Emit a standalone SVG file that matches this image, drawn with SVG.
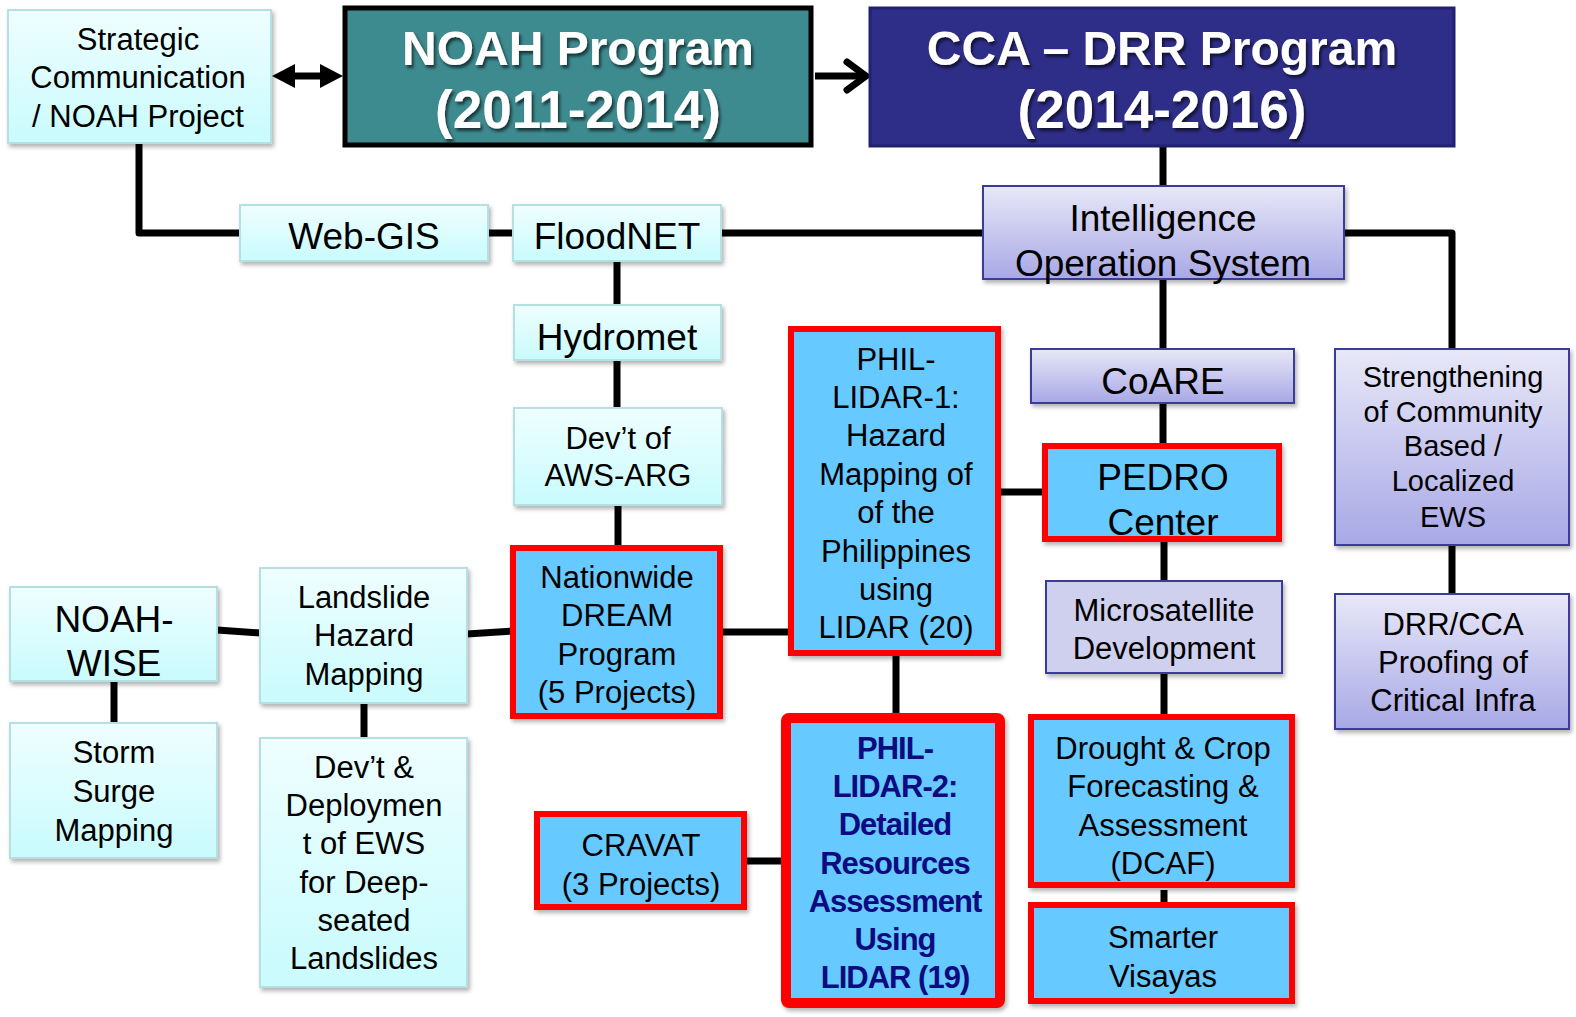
<svg xmlns="http://www.w3.org/2000/svg" width="1576" height="1017" viewBox="0 0 1576 1017">
<defs>
<linearGradient id="gCyan" x1="0" y1="0" x2="0" y2="1"><stop offset="0" stop-color="#effeff"/><stop offset="1" stop-color="#c9fbfd"/></linearGradient>
<linearGradient id="gLav" x1="0" y1="0" x2="0" y2="1"><stop offset="0" stop-color="#e8e8f8"/><stop offset="1" stop-color="#a8a8e6"/></linearGradient>
<filter id="sh" x="-10%" y="-10%" width="125%" height="125%"><feDropShadow dx="2" dy="3" stdDeviation="2" flood-color="#000" flood-opacity="0.3"/></filter>
<filter id="tsh" x="-10%" y="-20%" width="120%" height="150%"><feDropShadow dx="2" dy="3" stdDeviation="1.5" flood-color="#000" flood-opacity="0.6"/></filter>
</defs>
<style>
.cy{fill:url(#gCyan);stroke:#b6dfe2;stroke-width:2;filter:url(#sh)}
.lv{fill:url(#gLav);stroke:#3a3a9e;stroke-width:2;filter:url(#sh)}
.bl{fill:#66c9ff;stroke:#ff0000;stroke-width:6;filter:url(#sh)}
text{font-family:"Liberation Sans",Arial,sans-serif;fill:#000;text-anchor:middle}
.t31{font-size:31px}
.t37{font-size:37px}
.t29{font-size:29px}
.ttl{font-size:48px;font-weight:bold;fill:#fff;filter:url(#tsh)}
.ttl2{font-size:53px;font-weight:bold;fill:#fff;filter:url(#tsh)}
.b2{font-size:31px;font-weight:bold;fill:#0c0c80;letter-spacing:-1px}
.ln{fill:none;stroke:#000;stroke-width:7;stroke-linejoin:round}
</style>
<rect width="1576" height="1017" fill="#fff"/>

<g id="connectors">
<path class="ln" d="M139 143 V233 H240"/>
<path class="ln" d="M488 233 H513"/>
<path class="ln" d="M721 233 H983"/>
<path class="ln" d="M617 261 V305"/>
<path class="ln" d="M617 360 V408"/>
<path class="ln" d="M618 505 V548"/>
<path class="ln" d="M1163 147 V186"/>
<path class="ln" d="M1344 233 H1452 V349"/>
<path class="ln" d="M1163 279 V349"/>
<path class="ln" d="M1163 403 V445"/>
<path class="ln" d="M1164 541 V581"/>
<path class="ln" d="M1164 673 V718"/>
<path class="ln" d="M1164 890 V906"/>
<path class="ln" d="M1001 492 H1045"/>
<path class="ln" d="M723 632 H791"/>
<path class="ln" d="M896 655 V717"/>
<path class="ln" d="M747 861 H785"/>
<path class="ln" d="M467 634 L513 631"/>
<path class="ln" d="M217 630 L260 633"/>
<path class="ln" d="M114 681 V723"/>
<path class="ln" d="M364 703 V738"/>
<path class="ln" d="M1452 546 V594"/>
<path class="ln" d="M290 76 H325"/>
<polygon points="272,76 295,64 295,88" fill="#000"/>
<polygon points="343,76 320,64 320,88" fill="#000"/>
<path class="ln" d="M815 76 H864"/>
<polyline points="847,62 866,76 847,90" fill="none" stroke="#000" stroke-width="7" stroke-linecap="round" stroke-linejoin="round"/>
</g>

<g id="strategic"><rect class="cy" x="8" y="10" width="263" height="133"/>
<text class="t31" x="138" y="50">Strategic</text><text class="t31" x="138" y="88">Communication</text><text class="t31" x="138" y="127">/ NOAH Project</text></g>

<g id="noah"><rect x="345" y="8" width="466" height="137" fill="#3d8a8f" stroke="#000" stroke-width="5"/>
<text class="ttl" x="578" y="65">NOAH Program</text><text class="ttl2" x="578" y="128">(2011-2014)</text></g>

<g id="cca"><rect x="870" y="8" width="584" height="138" fill="#2e2e88" stroke="#212170" stroke-width="3"/>
<text class="ttl" x="1162" y="65">CCA – DRR Program</text><text class="ttl2" x="1162" y="128">(2014-2016)</text></g>

<g id="webgis"><rect class="cy" x="240" y="205" width="248" height="56"/><text class="t37" x="364" y="249">Web-GIS</text></g>
<g id="floodnet"><rect class="cy" x="513" y="205" width="208" height="56"/><text class="t37" x="617" y="249">FloodNET</text></g>
<g id="ios"><rect class="lv" x="983" y="186" width="361" height="93"/>
<text class="t37" x="1163" y="231">Intelligence</text><text class="t37" x="1163" y="276">Operation System</text></g>
<g id="hydromet"><rect class="cy" x="514" y="305" width="207" height="55"/><text class="t37" x="617" y="350">Hydromet</text></g>
<g id="awsarg"><rect class="cy" x="514" y="408" width="208" height="97"/>
<text class="t31" x="618" y="449">Dev’t of</text><text class="t31" x="618" y="486">AWS-ARG</text></g>
<g id="coare"><rect class="lv" x="1031" y="349" width="263" height="54"/><text class="t37" x="1163" y="394">CoARE</text></g>

<g id="lidar1"><rect class="bl" x="791" y="329" width="207" height="324"/>
<text class="t31" x="896" y="370">PHIL-</text><text class="t31" x="896" y="408">LIDAR-1:</text><text class="t31" x="896" y="446">Hazard</text><text class="t31" x="896" y="485">Mapping of</text><text class="t31" x="896" y="523">of the</text><text class="t31" x="896" y="562">Philippines</text><text class="t31" x="896" y="600">using</text><text class="t31" x="896" y="638">LIDAR (20)</text></g>

<g id="pedro"><rect class="bl" x="1045" y="446" width="234" height="93"/>
<text class="t37" x="1163" y="490">PEDRO</text><text class="t37" x="1163" y="535">Center</text></g>

<g id="strengthening"><rect class="lv" x="1335" y="349" width="234" height="196"/>
<text class="t29" x="1453" y="387">Strengthening</text><text class="t29" x="1453" y="422">of Community</text><text class="t29" x="1453" y="456">Based /</text><text class="t29" x="1453" y="491">Localized</text><text class="t29" x="1453" y="527">EWS</text></g>

<g id="microsat"><rect x="1046" y="581" width="236" height="92" fill="#cfcfee" stroke="#3a3a9e" stroke-width="2" filter="url(#sh)"/>
<text class="t31" x="1164" y="621">Microsatellite</text><text class="t31" x="1164" y="659">Development</text></g>

<g id="drrcca"><rect class="lv" x="1335" y="594" width="234" height="135"/>
<text class="t31" x="1453" y="635">DRR/CCA</text><text class="t31" x="1453" y="673">Proofing of</text><text class="t31" x="1453" y="711">Critical Infra</text></g>

<g id="noahwise"><rect class="cy" x="10" y="587" width="207" height="94"/>
<text class="t37" x="114" y="632">NOAH-</text><text class="t37" x="114" y="676">WISE</text></g>

<g id="landslide"><rect class="cy" x="260" y="568" width="207" height="135"/>
<text class="t31" x="364" y="608">Landslide</text><text class="t31" x="364" y="646">Hazard</text><text class="t31" x="364" y="685">Mapping</text></g>

<g id="dream"><rect class="bl" x="513" y="548" width="207" height="168"/>
<text class="t31" x="617" y="588">Nationwide</text><text class="t31" x="617" y="626">DREAM</text><text class="t31" x="617" y="665">Program</text><text class="t31" x="617" y="703">(5 Projects)</text></g>

<g id="stormsurge"><rect class="cy" x="10" y="723" width="207" height="135"/>
<text class="t31" x="114" y="763">Storm</text><text class="t31" x="114" y="802">Surge</text><text class="t31" x="114" y="841">Mapping</text></g>

<g id="ews"><rect class="cy" x="260" y="738" width="207" height="249"/>
<text class="t31" x="364" y="778">Dev’t &amp;</text><text class="t31" x="364" y="816">Deploymen</text><text class="t31" x="364" y="854">t of EWS</text><text class="t31" x="364" y="893">for Deep-</text><text class="t31" x="364" y="931">seated</text><text class="t31" x="364" y="969">Landslides</text></g>

<g id="cravat"><rect class="bl" x="537" y="814" width="207" height="93"/>
<text class="t31" x="641" y="856">CRAVAT</text><text class="t31" x="641" y="895">(3 Projects)</text></g>

<g id="lidar2"><rect x="786" y="718" width="214" height="285" fill="#66c9ff" stroke="#ff0000" stroke-width="10" rx="3" filter="url(#sh)"/>
<text class="b2" x="895" y="759">PHIL-</text><text class="b2" x="895" y="797">LIDAR-2:</text><text class="b2" x="895" y="835">Detailed</text><text class="b2" x="895" y="874">Resources</text><text class="b2" x="895" y="912">Assessment</text><text class="b2" x="895" y="950">Using</text><text class="b2" x="895" y="988">LIDAR (19)</text></g>

<g id="dcaf"><rect class="bl" x="1031" y="717" width="261" height="168"/>
<text class="t31" x="1163" y="759">Drought &amp; Crop</text><text class="t31" x="1163" y="797">Forecasting &amp;</text><text class="t31" x="1163" y="836">Assessment</text><text class="t31" x="1163" y="874">(DCAF)</text></g>

<g id="smarter"><rect class="bl" x="1031" y="905" width="261" height="96"/>
<text class="t31" x="1163" y="948">Smarter</text><text class="t31" x="1163" y="987">Visayas</text></g>
</svg>
